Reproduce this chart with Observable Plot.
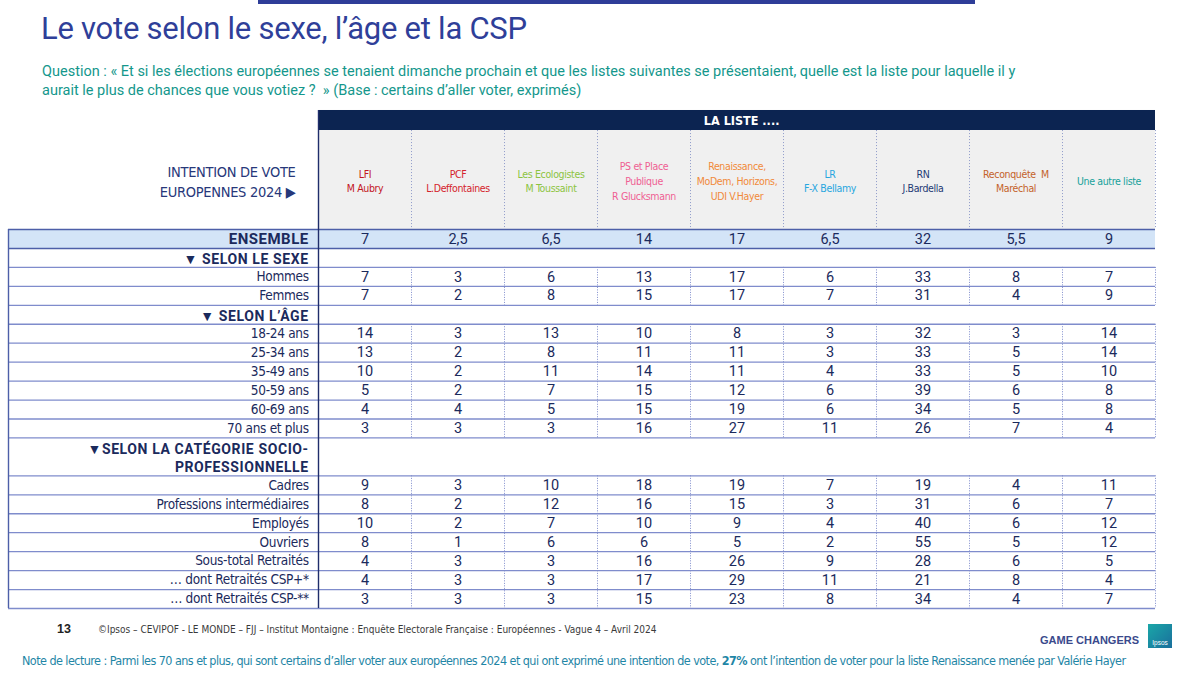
<!DOCTYPE html>
<html><head><meta charset="utf-8">
<script src="https://cdn.jsdelivr.net/npm/d3@7"></script>
<script src="https://cdn.jsdelivr.net/npm/@observablehq/plot@0.6"></script>
<style>
body{margin:0;background:#fff;width:1200px;height:674px;position:relative;overflow:hidden;font-family:Roboto,sans-serif}
.abs{position:absolute;white-space:nowrap}
#topbar{left:258px;top:0;width:717px;height:4px;background:#2e3d98}
#title{left:41px;top:10px;font-size:31px;color:#2f3f99;font-family:Roboto,sans-serif;letter-spacing:-0.25px}
#question{left:42px;top:62px;font-size:14.5px;line-height:19px;color:#14978c;font-family:Roboto,sans-serif}
#chart{position:absolute;left:0;top:105px}
#page{left:57px;top:622px;font-size:12.5px;font-weight:bold;color:#222;font-family:"Liberation Sans",Arial,sans-serif}
#source{left:98px;top:624px;font-size:10px;color:#3a3a3a;font-family:"DejaVu Sans Condensed",sans-serif}
#gc{left:1040px;top:634px;font-size:11px;font-weight:bold;color:#3a4a8c;font-family:"Liberation Sans",Arial,sans-serif}
#logo{left:1148px;top:624px;width:24px;height:24px;background:linear-gradient(135deg,#1aa7a8,#1a6f9c);color:#fff;font-size:6.5px;font-family:"Liberation Sans",Arial,sans-serif;text-align:center;line-height:38px}
#note{left:22px;top:653px;font-size:12.5px;letter-spacing:-0.56px;color:#1f86a6;font-family:"DejaVu Sans Condensed",sans-serif}
</style></head>
<body>
<div id="topbar" class="abs"></div>
<div id="title" class="abs">Le vote selon le sexe, l’âge et la CSP</div>
<div id="question" class="abs">Question : « Et si les élections européennes se tenaient dimanche prochain et que les listes suivantes se présentaient, quelle est la liste pour laquelle il y<br>aurait le plus de chances que vous votiez ?&nbsp; » (Base : certains d’aller voter, exprimés)</div>
<div id="chart"></div>
<div id="page" class="abs">13</div>
<div id="source" class="abs">©Ipsos – CEVIPOF - LE MONDE – FJJ – Institut Montaigne : Enquête Electorale Française : Européennes - Vague 4 – Avril 2024</div>
<div id="gc" class="abs">GAME CHANGERS</div>
<div id="logo" class="abs">Ipsos</div>
<div id="note" class="abs">Note de lecture : Parmi les 70 ans et plus, qui sont certains d’aller voter aux européennes 2024 et qui ont exprimé une intention de vote, <b>27%</b> ont l’intention de voter pour la liste Renaissance menée par Valérie Hayer</div>
<script>
// ---------- DATA ----------
const parties = [
  "LFI\nM Aubry",
  "PCF\nL.Deffontaines",
  "Les Ecologistes\nM Toussaint",
  "PS et Place\nPublique\nR Glucksmann",
  "Renaissance,\nMoDem, Horizons,\nUDI V.Hayer",
  "LR\nF-X Bellamy",
  "RN\nJ.Bardella",
  "Reconquête  M\nMaréchal",
  "Une autre liste"
];
const partyColors = ["#c3161f","#d4232b","#8cc43f","#ef5f93","#f08a3a","#27a6df","#1f3b75","#c4622a","#17a19b"];
const headerTitle = "LA LISTE ....";
const cornerLabel = "INTENTION DE VOTE\nEUROPENNES 2024 ▶";
const ensembleLabel = "ENSEMBLE";
const ensembleValues = [7, 2.5, 6.5, 14, 17, 6.5, 32, 5.5, 9];
const sectionTitles = ["▼ SELON LE SEXE", "▼ SELON L’ÂGE", "▼SELON LA CATÉGORIE SOCIO-\nPROFESSIONNELLE"];
const sexeLabels = ["Hommes", "Femmes"];
const sexeValues = [
  [7, 3, 6, 13, 17, 6, 33, 8, 7],
  [7, 2, 8, 15, 17, 7, 31, 4, 9]
];
const ageLabels = ["18-24 ans", "25-34 ans", "35-49 ans", "50-59 ans", "60-69 ans", "70 ans et plus"];
const ageValues = [
  [14, 3, 13, 10, 8, 3, 32, 3, 14],
  [13, 2, 8, 11, 11, 3, 33, 5, 14],
  [10, 2, 11, 14, 11, 4, 33, 5, 10],
  [5, 2, 7, 15, 12, 6, 39, 6, 8],
  [4, 4, 5, 15, 19, 6, 34, 5, 8],
  [3, 3, 3, 16, 27, 11, 26, 7, 4]
];
const cspLabels = ["Cadres", "Professions intermédiaires", "Employés", "Ouvriers", "Sous-total Retraités", "… dont Retraités CSP+*", "… dont Retraités CSP-**"];
const cspValues = [
  [9, 3, 10, 18, 19, 7, 19, 4, 11],
  [8, 2, 12, 16, 15, 3, 31, 6, 7],
  [10, 2, 7, 10, 9, 4, 40, 6, 12],
  [8, 1, 6, 6, 5, 2, 55, 5, 12],
  [4, 3, 3, 16, 26, 9, 28, 6, 5],
  [4, 3, 3, 17, 29, 11, 21, 8, 4],
  [3, 3, 3, 15, 23, 8, 34, 4, 7]
];

// ---------- LAYOUT (row slots / column units) ----------
const rows = [];
let slot = 0;
rows.push({label: ensembleLabel, kind: "total", slot, span: 1, values: ensembleValues}); slot += 1;
function addSection(title, labels, values) {
  const span = title.split("\n").length;
  rows.push({label: title, kind: "section", slot, span}); slot += span;
  labels.forEach((l, k) => { rows.push({label: l, kind: "row", slot, span: 1, values: values[k]}); slot += 1; });
}
addSection(sectionTitles[0], sexeLabels, sexeValues);
addSection(sectionTitles[1], ageLabels, ageValues);
addSection(sectionTitles[2], cspLabels, cspValues);
const nSlots = slot;
const nCols = parties.length;
const LABEL_W = 310 / 93;      // label column width in column units
const HEAD_TOP = -6.28, HEAD_SPLIT = -5.22, HEAD_MID = -2.59;
const Y0 = -124 / 18.95, Y1 = (510 - 124) / 18.95;

const cells = rows.filter(r => r.values).flatMap(r => r.values.map((v, j) => ({col: j, slot: r.slot, v, kind: r.kind})));
const boundaries = Array.from(new Set(rows.flatMap(r => [r.slot, r.slot + r.span]))).sort((a, b) => a - b);
const segs = [];
let run = null;
rows.forEach(r => {
  if (r.kind === "row") { if (!run) run = {y1: r.slot, y2: r.slot + 1}; else run.y2 = r.slot + 1; }
  else { if (run) segs.push(run); run = null; }
});
if (run) segs.push(run);
const vlines = segs.flatMap(s => d3.range(1, nCols + 1).map(x => ({x, y1: s.y1, y2: s.y2})));
const headCols = parties.map((p, i) => ({i, p}));
const fmt = v => String(v).replace(".", ",");
const narrow = "'DejaVu Sans Condensed',sans-serif";
const navy = "#1b2a5c";

const chart = Plot.plot({
  width: 1200, height: 510,
  marginLeft: 8, marginRight: 45, marginTop: 0, marginBottom: 0,
  x: {type: "linear", domain: [-LABEL_W, nCols], axis: null},
  y: {type: "linear", domain: [Y0, Y1], reverse: true, axis: null},
  style: {background: "transparent", overflow: "visible"},
  marks: [
    // header band
    Plot.rect([0], {x1: 0, x2: nCols, y1: HEAD_TOP, y2: HEAD_SPLIT, fill: "#0c2451"}),
    Plot.text([headerTitle], {x: nCols / 2 + 0.05, y: (HEAD_TOP + HEAD_SPLIT) / 2, text: d => d, fill: "#fff", fontSize: 12.5, fontWeight: "bold", fontFamily: narrow}),
    // header cells
    Plot.rect(headCols, {x1: d => d.i, x2: d => d.i + 1, y1: HEAD_SPLIT, y2: 0, fill: "#f0f0f0"}),
    Plot.ruleX(d3.range(1, nCols + 1), {x: d => d, y1: HEAD_SPLIT, y2: 0, stroke: "#8e9ac9", strokeWidth: 1, strokeDasharray: "1,2"}),
    Plot.text(headCols, {x: d => d.i + 0.5, y: HEAD_MID, text: "p", fill: d => partyColors[d.i], fontSize: 10.5, lineHeight: 1.4, fontFamily: narrow}),
    Plot.text([cornerLabel], {x: -0.247, y: HEAD_MID, text: d => d, textAnchor: "end", fill: "#27387a", fontSize: 14.5, lineHeight: 1.38, fontFamily: narrow}),
    // ensemble fill
    Plot.rect(rows.filter(r => r.kind === "total"), {x1: -LABEL_W, x2: nCols, y1: "slot", y2: r => r.slot + 1, fill: "#d3e4f7"}),
    // horizontal lines
    Plot.ruleY(boundaries, {y: d => d, x1: -LABEL_W, x2: nCols, stroke: d => d <= 1 ? "#4d5fa8" : "#7f8ccc", strokeWidth: d => d <= 1 ? 1.6 : 1.3}),
    // vertical dotted separators
    Plot.ruleX(vlines, {x: "x", y1: "y1", y2: "y2", stroke: "#7f8ccc", strokeWidth: 1, strokeDasharray: "1,1.5"}),
    // borders
    Plot.ruleX([-LABEL_W], {x: d => d, y1: 0, y2: nSlots, stroke: "#4d5fa8", strokeWidth: 1.4}),
    Plot.ruleX([0], {x: d => d, y1: HEAD_TOP, y2: nSlots, stroke: "#1f2d6b", strokeWidth: 1.4}),
    // labels
    Plot.text(rows.filter(r => r.kind === "row"), {x: -0.105, y: r => r.slot + 0.5, text: "label", textAnchor: "end", fill: navy, fontSize: 13.5, fontFamily: narrow}),
    Plot.text(rows.filter(r => r.kind === "total"), {x: -0.105, y: r => r.slot + 0.5, text: "label", textAnchor: "end", fill: navy, fontSize: 15, fontWeight: "bold", fontFamily: "Roboto,sans-serif"}),
    Plot.text(rows.filter(r => r.kind === "section"), {x: -0.105, y: r => r.slot + r.span / 2, text: "label", textAnchor: "end", fill: navy, fontSize: 14, fontWeight: "bold", lineHeight: 1.35, fontFamily: "Roboto,sans-serif"}),
    // values
    Plot.text(cells, {x: d => d.col + 0.5, y: d => d.slot + 0.5, text: d => fmt(d.v), fill: navy, fontSize: 14.5, fontWeight: d => d.kind === "total" ? "bold" : 500, fontFamily: "Roboto,sans-serif"})
  ]
});
// letter-spacing tweaks for the text marks (in mark order)
const textGroups = chart.querySelectorAll('g[aria-label="text"]');
const spacing = ["0", "-0.35", "-0.3", "-0.3", "0.5", "0.6", "0"];
textGroups.forEach((g, k) => { if (spacing[k] !== undefined) g.setAttribute("letter-spacing", spacing[k]); });
document.getElementById("chart").appendChild(chart);
</script>
</body></html>
